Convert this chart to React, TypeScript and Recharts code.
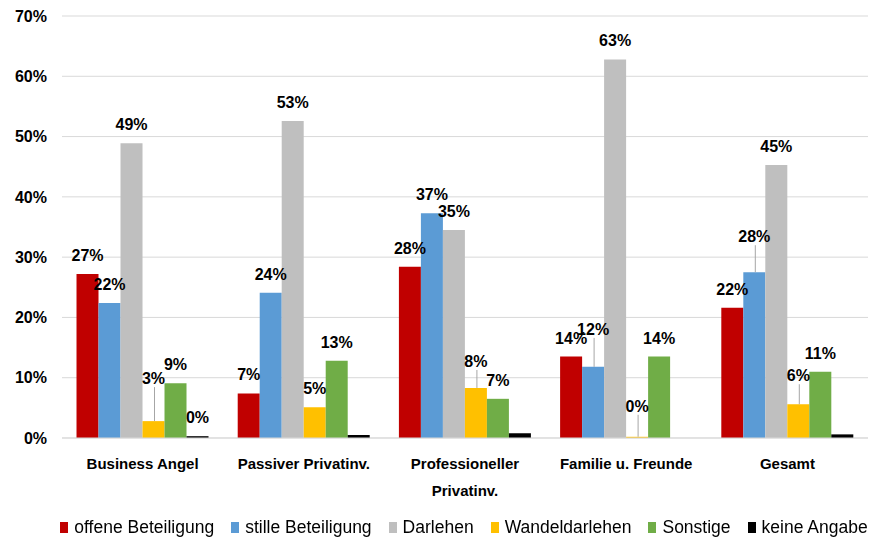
import React from 'react';
import {
  Bar,
  BarChart,
  CartesianGrid,
  LabelList,
  Legend,
  XAxis,
  YAxis,
} from 'recharts';

const categories = [
  'Business Angel',
  'Passiver Privatinv.',
  'Professioneller Privatinv.',
  'Familie u. Freunde',
  'Gesamt',
];

const offeneBeteiligung = [27.2, 7.4, 28.4, 13.5, 21.6];
const stilleBeteiligung = [22.4, 24.1, 37.3, 11.8, 27.5];
const darlehen = [48.9, 52.6, 34.5, 62.8, 45.3];
const wandeldarlehen = [2.8, 5.1, 8.3, 0.2, 5.6];
const sonstige = [9.1, 12.8, 6.5, 13.5, 11.0];
const keineAngabe = [0.3, 0.5, 0.8, null, 0.6];

const yTicks = [0, 10, 20, 30, 40, 50, 60, 70];

// which labels are shown, and how far some are lifted (Excel moved them, with a leader line)
const keineAngabeShown = [true, false, false, false, true];
const stilleLift = [0, 0, 0, 19, 17];
const wandelLift = [24, 0, 8, 12, 10];

const FONT = "'Liberation Sans', Arial, sans-serif";

const series = [
  { key: 'offene', name: 'offene Beteiligung', color: '#C00000', values: offeneBeteiligung },
  { key: 'stille', name: 'stille Beteiligung', color: '#5B9BD5', values: stilleBeteiligung, lift: stilleLift },
  { key: 'darlehen', name: 'Darlehen', color: '#BFBFBF', values: darlehen },
  { key: 'wandel', name: 'Wandeldarlehen', color: '#FFC000', values: wandeldarlehen, lift: wandelLift },
  { key: 'sonstige', name: 'Sonstige', color: '#70AD47', values: sonstige },
  { key: 'keine', name: 'keine Angabe', color: '#000000', values: keineAngabe, shown: keineAngabeShown },
];

const data = categories.map((name, i) => {
  const row: Record<string, any> = { name };
  series.forEach((s) => {
    row[s.key] = s.values[i];
  });
  return row;
});

function makeLabel(lift?: number[], shown?: boolean[]) {
  return (props: any) => {
    const { x, y, width, value, index } = props;
    if (value === null || value === undefined) return null;
    if (shown && !shown[index]) return null;
    const up = lift ? lift[index] : 0;
    const cx = Number(x) + Number(width) / 2;
    const cy = Number(y) - 19 - up;
    return (
      <g>
        {up > 0 && (
          <line x1={cx + 1} x2={cx + 1} y1={cy + 9} y2={Number(y)} stroke="#A6A6A6" strokeWidth={1} />
        )}
        <text
          x={cx}
          y={cy + 6}
          textAnchor="middle"
          fontFamily={FONT}
          fontSize={16}
          fontWeight="bold"
          fill="#000"
        >
          {Math.round(value) + '%'}
        </text>
      </g>
    );
  };
}

function CategoryTick(props: any) {
  const { x, y, payload } = props;
  const text: string = payload.value;
  let lines = [text];
  if (text.length > 22) {
    const cut = text.lastIndexOf(' ');
    lines = [text.slice(0, cut), text.slice(cut + 1)];
  }
  return (
    <text
      x={x}
      y={y + 23}
      textAnchor="middle"
      fontFamily={FONT}
      fontSize={15}
      fontWeight="bold"
      fill="#000"
    >
      {lines.map((l, i) => (
        <tspan key={i} x={x} dy={i === 0 ? 0 : 27}>
          {l}
        </tspan>
      ))}
    </text>
  );
}

function LegendContent() {
  return (
    <div
      style={{
        display: 'flex',
        justifyContent: 'center',
        alignItems: 'center',
        fontFamily: FONT,
        fontSize: 17.5,
        color: '#000',
        gap: 17,
        paddingTop: 7,
        position: 'relative',
        left: 30,
        whiteSpace: 'nowrap',
      }}
    >
      {series.map((s) => (
        <div key={s.key} style={{ display: 'flex', alignItems: 'center', flexShrink: 0 }}>
          <span
            style={{
              display: 'inline-block',
              width: 8,
              height: 11,
              background: s.color,
              marginRight: 6,
            }}
          />
          <span>{s.name}</span>
        </div>
      ))}
    </div>
  );
}

export default function App() {
  return (
    <div style={{ position: 'fixed', left: 0, top: 0, background: '#fff' }}>
      <BarChart
        width={873}
        height={540}
        data={data}
        margin={{ top: 16, right: 5, left: 0, bottom: 0 }}
        barCategoryGap="9%"
        barGap={0}
      >
        <CartesianGrid vertical={false} stroke="#D9D9D9" strokeWidth={1} />
        <XAxis
          dataKey="name"
          height={72}
          axisLine={{ stroke: '#D9D9D9' }}
          tickLine={false}
          interval={0}
          tick={<CategoryTick />}
        />
        <YAxis
          width={62}
          domain={[0, 70]}
          ticks={yTicks}
          interval={0}
          axisLine={false}
          tickLine={false}
          tickMargin={9}
          tickFormatter={(v: number) => v + '%'}
          tick={{ fill: '#000', fontFamily: FONT, fontSize: 16, fontWeight: 'bold' }}
        />
        <Legend verticalAlign="bottom" height={30} content={<LegendContent />} />
        {series.map((s) => (
          <Bar key={s.key} dataKey={s.key} name={s.name} fill={s.color} isAnimationActive={false}>
            <LabelList dataKey={s.key} content={makeLabel(s.lift, s.shown)} />
          </Bar>
        ))}
      </BarChart>
    </div>
  );
}
